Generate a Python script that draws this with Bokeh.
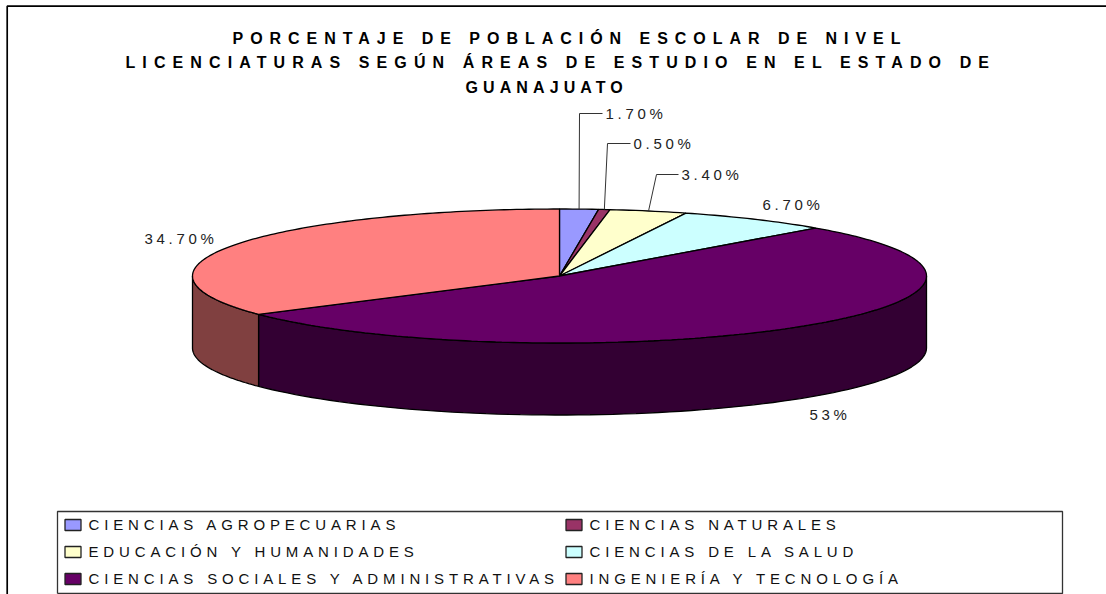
import math
from bokeh.plotting import figure
from bokeh.models import Range1d, InlineStyleSheet
from bokeh.core.properties import value
from bokeh.embed import file_html
from bokeh.resources import INLINE

categories = ["CIENCIAS AGROPECUARIAS", "CIENCIAS NATURALES", "EDUCACIÓN Y HUMANIDADES",
              "CIENCIAS DE LA SALUD", "CIENCIAS SOCIALES Y ADMINISTRATIVAS", "INGENIERÍA Y TECNOLOGÍA"]
values = [1.7, 0.5, 3.4, 6.7, 53, 34.7]
labels = ["1.70%", "0.50%", "3.40%", "6.70%", "53%", "34.70%"]
colors = ["#9999FF", "#993366", "#FFFFCC", "#CCFFFF", "#660066", "#FF8080"]
side_colors = ["#4D4D80", "#4D1A33", "#808066", "#668080", "#330033", "#804040"]
title_lines = ["PORCENTAJE DE POBLACIÓN ESCOLAR DE NIVEL",
               "LICENCIATURAS SEGÚN ÁREAS DE ESTUDIO EN EL ESTADO DE",
               "GUANAJUATO"]

# layout
W, H = 1106, 594
CX, CY, RX, RY, DEPTH = 559, 275.5, 367, 67, 72
TOTAL = sum(values)
FONT = value("Liberation Sans")


def layer(spacing):
    f = figure(width=W, height=H, output_backend="svg", toolbar_location=None,
               x_range=Range1d(0, W), y_range=Range1d(H, 0), min_border=0,
               x_axis_type=None, y_axis_type=None, outline_line_color=None,
               background_fill_color=None, border_fill_color=None, tools="",
               stylesheets=[InlineStyleSheet(css=":host { letter-spacing: %.2fpx; }" % spacing)])
    f.grid.visible = False
    f.styles = {"position": "absolute", "left": "0px", "top": "0px"}
    return f


def pt(a, dy=0):
    return CX + RX * math.sin(a), CY - RY * math.cos(a) + dy


p = layer(3.7)
g = layer(4.85)

# chart frame
p.line([6.7, 6.7, W], [H, 5.7, 5.7], line_color="black", line_width=1.7)

# angles
starts, ends = [], []
acc = 0
for v in values:
    starts.append(acc / TOTAL * 2 * math.pi)
    acc += v
    ends.append(acc / TOTAL * 2 * math.pi)

# front walls
for s, e, c in zip(starts, ends, side_colors):
    a0, a1 = max(s, math.pi / 2), min(e, 3 * math.pi / 2)
    if a1 <= a0:
        continue
    n = 80
    angs = [a0 + (a1 - a0) * i / n for i in range(n + 1)]
    pts = [pt(a) for a in angs] + [pt(a, DEPTH) for a in reversed(angs)]
    p.patch([q[0] for q in pts], [q[1] for q in pts], fill_color=c, line_color="black", line_width=1.3)

# top faces
for s, e, c in zip(starts, ends, colors):
    n = max(3, int((e - s) * 60))
    angs = [s + (e - s) * i / n for i in range(n + 1)]
    pts = [(CX, CY)] + [pt(a) for a in angs]
    p.patch([q[0] for q in pts], [q[1] for q in pts], fill_color=c, line_color="black", line_width=1.3)

# leader lines
leader_elbows = [(579, 113, 602), (607, 143, 630), (656, 174, 678)]
for i, (ex, ey, lx) in enumerate(leader_elbows):
    x0, y0 = pt((starts[i] + ends[i]) / 2)
    p.line([x0, ex, lx], [y0, ey, ey], line_color="#333333", line_width=1)

# percent labels
label_x = [605, 633, 681, 762, 809, 144]
label_y = [113, 143, 174, 204, 414, 238]
p.text(label_x, label_y, text=labels, text_font=FONT, text_font_size="15px",
       text_color="#222222", text_baseline="middle", text_align="left")

# title: one layer per line, each with its own letter spacing
title_x = [232, 125, 465]
title_y = [37.5, 62, 87]
title_spacing = [6.97, 7.1, 5.1]
title_layers = []
for line, x, y, sp in zip(title_lines, title_x, title_y, title_spacing):
    t = layer(sp)
    t.text([x], [y], text=[line], text_font=FONT, text_font_style="bold",
           text_font_size="16px", text_color="black", text_baseline="middle", text_align="left")
    title_layers.append(t)

# legend
p.line([57, 57, 1062, 1062, 57], [593, 511, 511, 593, 593], line_color="#333333", line_width=1.3)
col_x = [64, 565, 64, 565, 64, 565]
row_y = [524.5, 524.5, 551.5, 551.5, 578.5, 578.5]
p.rect([x + 8.5 for x in col_x], row_y, width=16, height=11, fill_color=colors, line_color="#222222", line_width=1.3)
g.text([x + 24 for x in col_x], [y - 1 for y in row_y], text=categories, text_font=FONT, text_font_size="15px",
       text_color="#111111", text_baseline="middle", text_align="left")

open("out.html", "w").write(file_html([p, g] + title_layers, INLINE))
